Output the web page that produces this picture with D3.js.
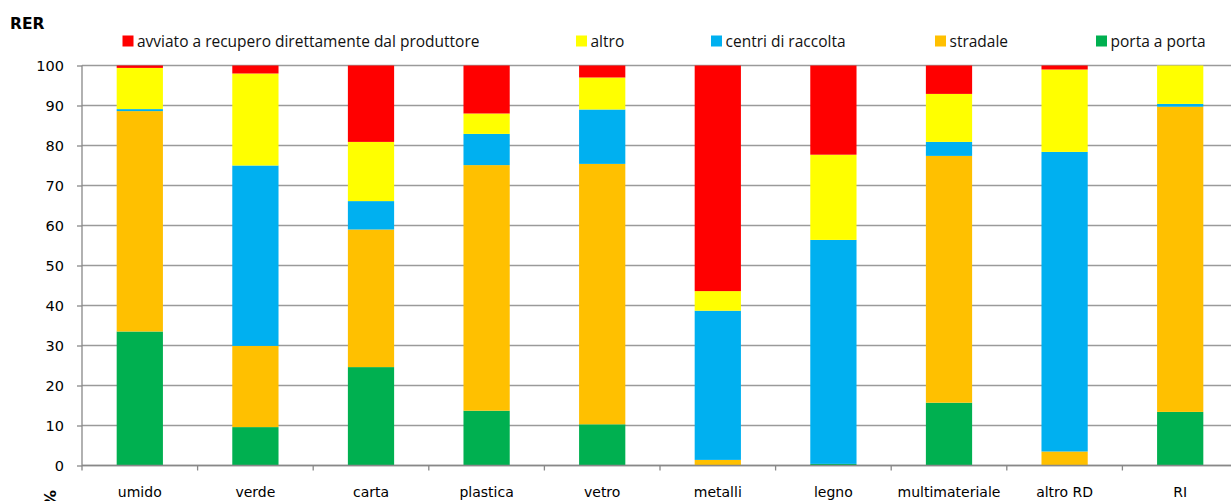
<!DOCTYPE html>
<html>
<head>
<meta charset="utf-8">
<script src="https://cdn.jsdelivr.net/npm/d3@7"></script>
<style>
  body { margin: 0; background: #fff; }
  svg { display: block; font-family: "DejaVu Sans", sans-serif; }
</style>
</head>
<body>
<div id="chart"></div>
<script>
const categories = ["umido", "verde", "carta", "plastica", "vetro", "metalli", "legno", "multimateriale", "altro RD", "RI"];
// stacking order bottom -> top
const seriesNames = ["porta a porta", "stradale", "centri di raccolta", "altro", "avviato a recupero direttamente dal produttore"];
const portaAPorta = [33.5, 9.6, 24.6, 13.7, 10.3, 0, 0.4, 15.7, 0, 13.4];
const stradale    = [55.1, 20.3, 34.4, 61.4, 65.1, 1.4, 0, 61.7, 3.5, 76.3];
const centri      = [0.5, 45.1, 7.1, 7.8, 13.6, 37.3, 56.0, 3.5, 74.9, 0.7];
const altro       = [10.3, 23.0, 14.8, 5.1, 8.0, 4.9, 21.3, 12.0, 20.6, 9.6];
const avviato     = [0.6, 2.0, 19.1, 12.0, 3.0, 56.4, 22.3, 7.1, 1.0, 0];
const yTicks = [0, 10, 20, 30, 40, 50, 60, 70, 80, 90, 100];
// legend order (left -> right)
const legendOrder = ["avviato a recupero direttamente dal produttore", "altro", "centri di raccolta", "stradale", "porta a porta"];

const colors = {
  "porta a porta": "#00B050",
  "stradale": "#FFC000",
  "centri di raccolta": "#00B0F0",
  "altro": "#FFFF00",
  "avviato a recupero direttamente dal produttore": "#FF0000"
};

const width = 1231, height = 501;
const margin = {left: 82, top: 66, bottom: 35};
const plotRight = 1238;

const svg = d3.select("#chart").append("svg")
  .attr("width", width).attr("height", height);

const rows = categories.map((c, i) => ({
  cat: c,
  "porta a porta": portaAPorta[i],
  "stradale": stradale[i],
  "centri di raccolta": centri[i],
  "altro": altro[i],
  "avviato a recupero direttamente dal produttore": avviato[i]
}));

const x = d3.scaleBand().domain(categories).range([margin.left, plotRight]).paddingInner(0.6).paddingOuter(0.3);
const xb = d3.scaleBand().domain(categories).range([margin.left, plotRight]);
const y = d3.scaleLinear().domain([0, 100]).range([465.5, 65.5]);

// gridlines
svg.append("g")
  .selectAll("line")
  .data(yTicks)
  .join("line")
  .attr("x1", margin.left).attr("x2", width)
  .attr("y1", d => y(d)).attr("y2", d => y(d))
  .attr("stroke", "#9a9a9a").attr("stroke-width", 1.3);

// bars
const stack = d3.stack().keys(seriesNames)(rows);
svg.append("g")
  .selectAll("g")
  .data(stack)
  .join("g")
  .attr("fill", d => colors[d.key])
  .selectAll("rect")
  .data(d => d)
  .join("rect")
  .attr("x", d => x(d.data.cat))
  .attr("width", x.bandwidth())
  .attr("y", d => y(d[1]))
  .attr("height", d => y(d[0]) - y(d[1]));

// y axis
const yAxis = svg.append("g")
  .attr("transform", `translate(${margin.left},0)`)
  .call(d3.axisLeft(y).tickValues(yTicks).tickSize(5).tickPadding(13));
yAxis.select(".domain").attr("stroke", "#888").attr("stroke-width", 1.3).attr("d", `M-0,${y(100)}V${y(0) + 5}`);
yAxis.selectAll(".tick line").attr("stroke", "#888").attr("stroke-width", 1.3);
yAxis.selectAll(".tick text").attr("font-size", 14.5).attr("fill", "#000")
  .style("font-family", "'DejaVu Sans', sans-serif");

// x axis
const xAxis = svg.append("g")
  .attr("transform", `translate(0,${y(0)})`);
xAxis.append("line")
  .attr("x1", margin.left).attr("x2", width)
  .attr("stroke", "#888").attr("stroke-width", 1.3);
xAxis.selectAll(".xt")
  .data(categories.slice(1))
  .join("line")
  .attr("class", "xt")
  .attr("x1", d => xb(d)).attr("x2", d => xb(d))
  .attr("y1", 0).attr("y2", 5)
  .attr("stroke", "#888").attr("stroke-width", 1.3);
xAxis.selectAll(".xl")
  .data(categories)
  .join("text")
  .attr("class", "xl")
  .attr("x", d => xb(d) + xb.bandwidth() / 2)
  .attr("y", 31)
  .attr("text-anchor", "middle")
  .attr("font-size", 14)
  .text(d => d);

// title & unit
svg.append("text")
  .attr("x", 10).attr("y", 29)
  .attr("font-size", 15.5).attr("font-weight", "bold")
  .text("RER");
svg.append("text")
  .attr("transform", "translate(56,506) rotate(-90)")
  .attr("font-size", 16).attr("font-weight", "bold")
  .text("%");

// legend
const legendX = [122.5, 576, 711, 935, 1096];
const legend = svg.append("g")
  .selectAll("g")
  .data(legendOrder)
  .join("g")
  .attr("transform", (d, i) => `translate(${legendX[i]},35.5)`);
legend.append("rect")
  .attr("width", 11).attr("height", 11)
  .attr("fill", d => colors[d]);
legend.append("text")
  .attr("x", 14.5).attr("y", 11.5)
  .attr("font-size", 15.5)
  .style("font-family", "'Open Sans', sans-serif")
  .attr("fill", "#111")
  .text(d => d);
</script>
</body>
</html>
